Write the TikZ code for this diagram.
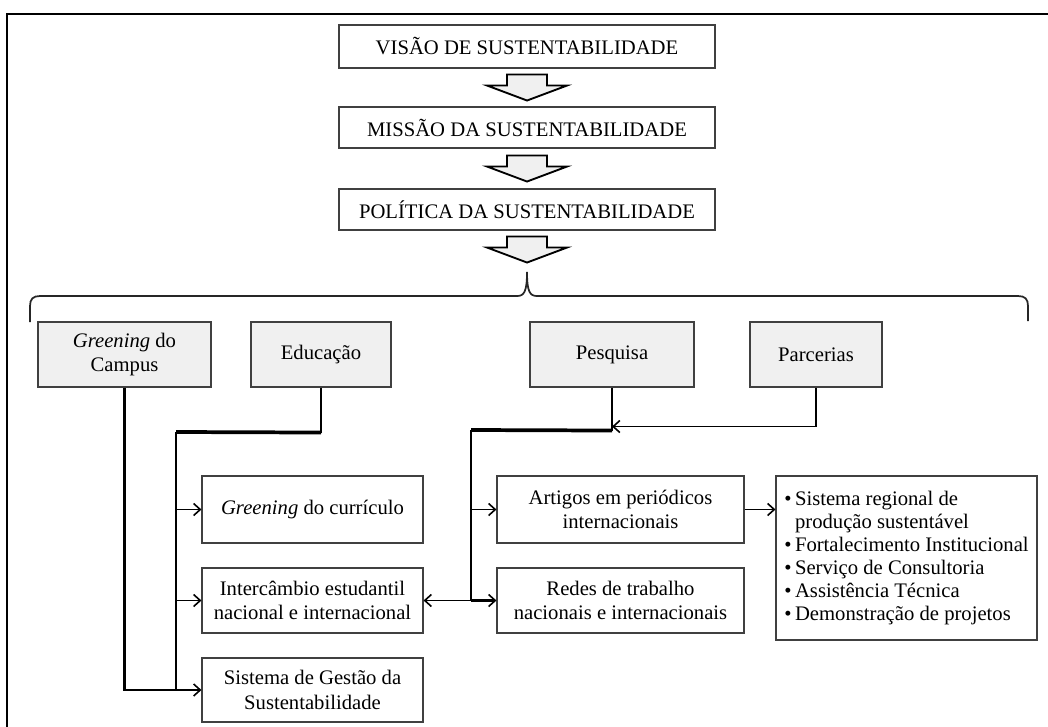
\documentclass[tikz,border=0pt]{standalone}
\usepackage{fontspec}
\setmainfont{Liberation Serif}
\usetikzlibrary{arrows.meta,calc}
\newcommand\mkblockarrow[1]{%
  \draw[blk] ($(#1)+(-20,0)$) -- ++(40,0) -- ++(0,11) -- ++(20,0) -- ++(-40,15) -- ++(-40,-15) -- ++(20,0) -- cycle;}
\begin{document}
\begin{tikzpicture}[x=0.75pt,y=-0.75pt,
  box/.style={draw=black!75, line width=0.8pt, inner sep=2pt, align=center, font=\fontsize{15.5}{18.5}\selectfont},
  gbox/.style={box, fill=black!6},
  blk/.style={draw=black, line width=1.4pt, fill=black!6, line join=miter},
  ln/.style={line width=1.3pt},
  lnm/.style={line width=1.8pt},
  lnb/.style={line width=2.8pt},
  tip/.style={-{Straight Barb[length=5pt,width=9pt,line width=1.2pt]}},
  brc/.style={line width=1.3pt, draw=black!85}
]
\useasboundingbox (0,0) rectangle (1048,727);
% outer frame
\draw[line width=2pt] (7,727) -- (7,14) -- (1048,14);

% top chain
\node[box, minimum width=282pt, minimum height=32.25pt] (visao) at (527,46.5) {VISÃO DE SUSTENTABILIDADE};
\node[box, minimum width=282pt, minimum height=30.75pt] (missao) at (527,127.5) {MISSÃO DA SUSTENTABILIDADE};
\node[box, minimum width=282pt, minimum height=30.75pt] (politica) at (527,209.5) {POLÍTICA DA SUSTENTABILIDADE};

\path (visao.south) ++(0,6) coordinate (a1);
\path (missao.south) ++(0,7) coordinate (a2);
\path (politica.south) ++(0,6) coordinate (a3);
\mkblockarrow{a1}
\mkblockarrow{a2}
\mkblockarrow{a3}

% brace
\draw[brc] (30,322) -- (30,306) .. controls (30,299) and (33,296) .. (40,296)
  -- (517,296) .. controls (524,296) and (527,292) .. (527,272)
  .. controls (527,292) and (530,296) .. (537,296)
  -- (1018,296) .. controls (1025,296) and (1028,299) .. (1028,306) -- (1028,321);

% second row
\node[gbox, minimum width=129.75pt, minimum height=48.75pt] (campus) at (124.5,354.5) {\textit{Greening} do\\Campus};
\node[gbox, minimum width=105pt, minimum height=48.75pt] (educ) at (321,354.5) {Educação};
\node[gbox, minimum width=123pt, minimum height=48.75pt] (pesq) at (612,354.5) {Pesquisa};
\node[gbox, minimum width=99pt, minimum height=48.75pt] (parc) at (816,354.5) {Parcerias};

% lower boxes
\node[box, minimum width=165.75pt, minimum height=50.25pt] (grc) at (312.5,509.5) {\textit{Greening} do currículo};
\node[box, minimum width=165.75pt, minimum height=48.75pt] (inter) at (312.5,600.5) {Intercâmbio estudantil\\nacional e internacional};
\node[box, minimum width=165.75pt, minimum height=48pt] (sist) at (312.5,690) {Sistema de Gestão da\\Sustentabilidade};
\node[box, minimum width=185.25pt, minimum height=50.25pt] (art) at (620.5,509.5) {Artigos em periódicos\\internacionais};
\node[box, minimum width=185.25pt, minimum height=48.75pt] (redes) at (620.5,600.5) {Redes de trabalho\\nacionais e internacionais};
\node[box, minimum width=195.75pt, minimum height=123pt, align=left, font=\fontsize{15.5}{17.25}\selectfont] (bul) at (906.5,558)
 {\textbullet\,Sistema regional de\\\phantom{\textbullet\,}produção sustentável\\\textbullet\,Fortalecimento Institucional\\\textbullet\,Serviço de Consultoria\\\textbullet\,Assistência Técnica\\\textbullet\,Demonstração de projetos};

% left connectors
\path (educ.south) ++(0,45) coordinate (ek);
\coordinate (eb) at (176,432);
\draw[ln] (educ.south) -- (ek);
\draw[lnb] (ek) -- (eb);
\draw[lnm] (eb) -- (eb |- sist.west);
\draw[ln, tip] (eb |- grc.west) -- (grc.west);
\draw[ln, tip] (eb |- inter.west) -- (inter.west);
\draw[lnm, tip] (campus.south) |- (sist.west);

% right connectors
\path (pesq.south) ++(0,43) coordinate (pj);
\path (pesq.south) ++(0,39) coordinate (pk);
\coordinate (pb) at (471,430);
\draw[ln] (pesq.south) -- (pj);
\draw[lnb] (pj) -- (pb);
\draw[lnm] (pb) -- (pb |- redes.west);
\draw[ln, tip] (pb |- art.west) -- (art.west);
\draw[lnb, tip] (pb |- redes.west) -- (redes.west);
\draw[ln, tip] (pb |- redes.west) -- (inter.east);
\draw[ln, tip] (parc.south) |- (pk);
\draw[ln, tip] (art.east) -- (art.east -| bul.west);
\end{tikzpicture}
\end{document}
